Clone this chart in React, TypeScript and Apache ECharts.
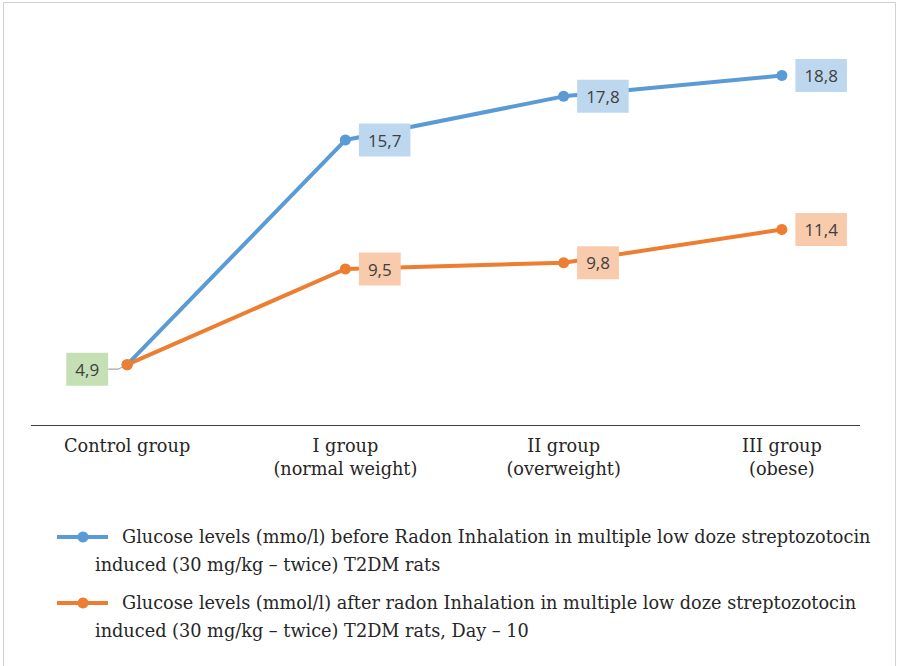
import { useEffect, useRef } from "react";
import * as echarts from "echarts";

// Study groups along the x axis
const categories = [
  "Control group",
  "I group\n(normal weight)",
  "II group\n(overweight)",
  "III group\n(obese)",
];

// Glucose, mmol/l
const glucoseBefore = [4.9, 15.7, 17.8, 18.8];
const glucoseAfter = [4.9, 9.5, 9.8, 11.4];

const seriesNames = [
  "Glucose levels (mmo/l) before Radon Inhalation in multiple low doze streptozotocin induced (30 mg/kg – twice) T2DM rats",
  "Glucose levels (mmol/l) after radon Inhalation in multiple low doze streptozotocin induced (30 mg/kg – twice) T2DM rats, Day – 10",
];

// Legend text split into its two printed lines
const legendLines = [
  [
    "Glucose levels (mmo/l) before Radon Inhalation in multiple low doze streptozotocin",
    "induced (30 mg/kg – twice) T2DM rats",
  ],
  [
    "Glucose levels (mmol/l) after radon Inhalation in multiple low doze streptozotocin",
    "induced (30 mg/kg – twice) T2DM rats, Day – 10",
  ],
];

const BLUE = "#5B9BD5";
const ORANGE = "#ED7D31";
const BLUE_BOX = "#BDD7EE";
const ORANGE_BOX = "#F8CBAD";
const GREEN_BOX = "#C5E0B4";
const SERIF = "'DejaVu Serif', serif";
const SANS = "'Open Sans', 'Noto Sans', sans-serif";
const SERIF_SIZE = 17.7;

const fmt = (v: number) => String(v).replace(".", ",");

const labelBase = {
  show: true,
  position: "right" as const,
  distance: 8,
  fontFamily: SANS,
  fontSize: 17,
  color: "#404040",
  padding: [6, 9],
  lineHeight: 21,
  formatter: (p: any) => fmt(p.value),
};

export default function App() {
  const ref = useRef<HTMLDivElement>(null);

  useEffect(() => {
    document.body.style.margin = "0";
    if (!ref.current) return;
    const chart = echarts.init(ref.current, null, { renderer: "svg" });

    const beforeData = glucoseBefore.map((v, i) =>
      i === 0
        ? { value: v, label: { show: false } }
        : { value: v, label: { ...labelBase, backgroundColor: BLUE_BOX } }
    );
    const afterData = glucoseAfter.map((v, i) =>
      i === 0
        ? {
            value: v,
            label: {
              ...labelBase,
              position: "left" as const,
              distance: 13.5,
              offset: [0, 4.5],
              backgroundColor: GREEN_BOX,
            },
          }
        : { value: v, label: { ...labelBase, backgroundColor: ORANGE_BOX } }
    );

    const legendGraphics: any[] = [];
    const legendY = [537, 603];
    const colors = [BLUE, ORANGE];
    legendY.forEach((y, k) => {
      legendGraphics.push(
        {
          type: "line",
          shape: { x1: 57, y1: y, x2: 108, y2: y },
          style: { stroke: colors[k], lineWidth: 4 },
        },
        {
          type: "circle",
          shape: { cx: 83, cy: y, r: 5.5 },
          style: { fill: colors[k] },
        },
        {
          type: "text",
          x: 122,
          y: y,
          style: {
            text: legendLines[k][0],
            fontFamily: SERIF,
            fontSize: SERIF_SIZE,
            fill: "#262626",
            verticalAlign: "middle",
          },
        },
        {
          type: "text",
          x: 95,
          y: y + 28,
          style: {
            text: legendLines[k][1],
            fontFamily: SERIF,
            fontSize: SERIF_SIZE,
            fill: "#262626",
            verticalAlign: "middle",
          },
        }
      );
    });

    const baseGraphics = [
      {
        type: "rect",
        shape: { x: 3.5, y: 2.5, width: 892, height: 700 },
        style: { fill: "none", stroke: "#D0D0D0", lineWidth: 1 },
        silent: true,
      },
      {
        type: "line",
        shape: { x1: 31, y1: 425.5, x2: 860, y2: 425.5 },
        style: { stroke: "#404040", lineWidth: 1 },
      },
      ...legendGraphics,
    ];

    chart.setOption({
      animation: false,
      grid: { left: 18, right: 6, top: 9, bottom: 241 },
      xAxis: {
        type: "category",
        data: categories,
        boundaryGap: true,
        axisLine: { show: false },
        axisTick: { show: false },
        axisLabel: {
          fontFamily: SERIF,
          fontSize: SERIF_SIZE,
          color: "#262626",
          lineHeight: 23,
          margin: 9,
          interval: 0,
        },
      },
      yAxis: {
        type: "value",
        min: 2,
        max: 22,
        show: false,
        splitLine: { show: false },
      },
      series: [
        {
          name: seriesNames[0],
          type: "line",
          data: beforeData,
          symbol: "circle",
          symbolSize: 11,
          itemStyle: { color: BLUE },
          lineStyle: { color: BLUE, width: 4 },
          z: 3,
        },
        {
          name: seriesNames[1],
          type: "line",
          data: afterData,
          symbol: "circle",
          symbolSize: 11,
          itemStyle: { color: ORANGE },
          lineStyle: { color: ORANGE, width: 4 },
          z: 4,
        },
      ],
      graphic: baseGraphics,
    });

    // leader line from the "4,9" label to its point
    const [px, py] = chart.convertToPixel({ gridIndex: 0 }, [0, glucoseAfter[0]]) as number[];
    chart.setOption({
      graphic: [
        ...baseGraphics,
        {
          type: "polyline",
          z: 1,
          shape: {
            points: [
              [px - 19, py + 4.5],
              [px - 9, py + 4.5],
              [px - 2, py + 1],
            ],
          },
          style: { stroke: "#A6A6A6", lineWidth: 1.2, fill: "none" },
        },
      ],
    });

    return () => chart.dispose();
  }, []);

  return <div ref={ref} style={{ width: 897, height: 666 }} />;
}
